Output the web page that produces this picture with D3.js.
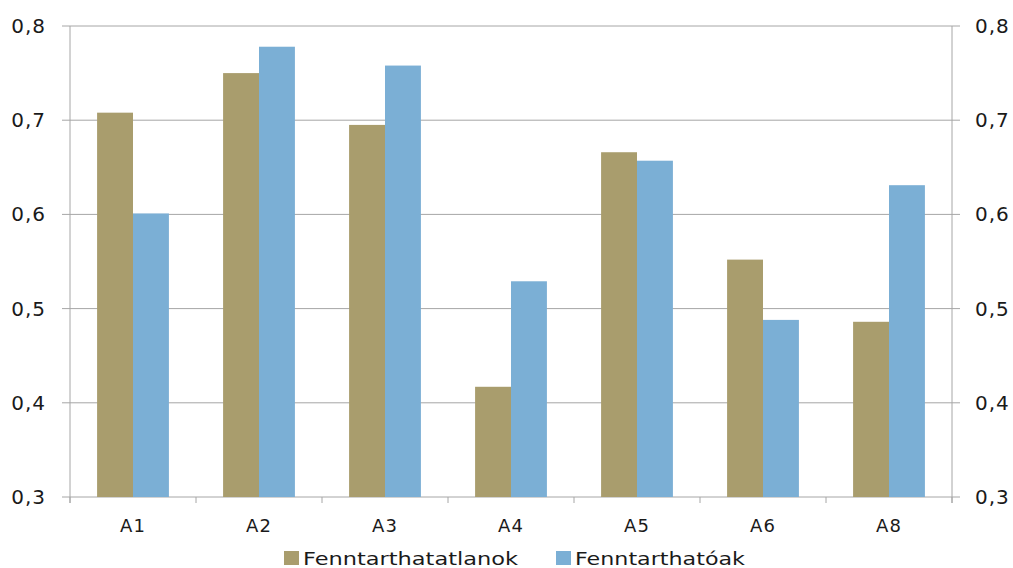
<!DOCTYPE html>
<html><head><meta charset="utf-8">
<script src="https://cdn.jsdelivr.net/npm/d3@7"></script>
<style>body{margin:0;background:#fff}svg{display:block}text{font-family:"DejaVu Sans",sans-serif;fill:#1a1a1a}</style>
</head><body><svg id="c" width="1013" height="568"></svg>
<script>
const categories = ["A1","A2","A3","A4","A5","A6","A8"];
const seriesNames = ["Fenntarthatatlanok","Fenntarthatóak"];
const unsustainable = [0.708,0.750,0.695,0.417,0.666,0.552,0.486];
const sustainable = [0.601,0.778,0.758,0.529,0.657,0.488,0.631];
const yTicks = [0.3,0.4,0.5,0.6,0.7,0.8];
const colors = ["#A99D6D","#7BAFD5"];

const svg = d3.select("#c");
const L = 70, R = 952, T = 26, B = 497;
const x = d3.scaleBand().domain(categories).range([L,R]).paddingInner(0.43).paddingOuter(0.215);
const xs = d3.scaleBand().domain([0,1]).range([0,x.bandwidth()]);
const y = d3.scaleLinear().domain([0.3,0.8]).range([B,T]);
const fmt = d => d3.format(".1f")(d).replace(".",",");
const grid = "#A6A6A6";

// gridlines
svg.append("g").selectAll("line").data(yTicks).join("line")
  .attr("x1",L-8).attr("x2",R+8).attr("y1",d=>y(d)).attr("y2",d=>y(d))
  .attr("stroke",grid).attr("stroke-width",1);

// bars
const data = categories.map((c,i)=>({c, v:[unsustainable[i],sustainable[i]]}));
const g = svg.append("g").selectAll("g").data(data).join("g").attr("transform",d=>`translate(${x(d.c)},0)`);
g.selectAll("rect").data(d=>d.v.map((v,k)=>({v,k}))).join("rect")
  .attr("x",d=>xs(d.k)).attr("width",xs.bandwidth())
  .attr("y",d=>y(d.v)).attr("height",d=>B-y(d.v)).attr("fill",d=>colors[d.k]);

// vertical axes lines
svg.append("line").attr("x1",L).attr("x2",L).attr("y1",T).attr("y2",B+6).attr("stroke",grid);
svg.append("line").attr("x1",R).attr("x2",R).attr("y1",T).attr("y2",B+6).attr("stroke",grid);

// x ticks at category boundaries
const bounds = d3.range(categories.length+1).map(i=>L+i*(R-L)/categories.length);
svg.append("g").selectAll("line").data(bounds).join("line")
  .attr("x1",d=>d).attr("x2",d=>d).attr("y1",B).attr("y2",B+6).attr("stroke",grid);

// y labels
svg.append("g").selectAll("text").data(yTicks).join("text")
  .attr("x",46).attr("y",d=>y(d)).attr("dy","0.35em").attr("text-anchor","end")
  .attr("font-size",20).attr("letter-spacing",1).text(fmt);
svg.append("g").selectAll("text").data(yTicks).join("text")
  .attr("x",975).attr("y",d=>y(d)).attr("dy","0.35em").attr("text-anchor","start")
  .attr("font-size",20).attr("letter-spacing",1).text(fmt);

// x labels
svg.append("g").selectAll("text").data(categories).join("text")
  .attr("x",d=>x(d)+x.bandwidth()/2).attr("y",532).attr("text-anchor","middle")
  .attr("font-size",18).attr("letter-spacing",1).text(d=>d);

// legend
const lg = [{x:284,tx:303,w:215},{x:556,tx:575,w:170}];
seriesNames.forEach((n,i)=>{
  svg.append("rect").attr("x",lg[i].x).attr("y",551).attr("width",15).attr("height",14).attr("fill",colors[i]);
  svg.append("text").attr("x",lg[i].tx).attr("y",565).attr("font-size",18)
    .attr("textLength",lg[i].w).attr("lengthAdjust","spacingAndGlyphs").text(n);
});
</script></body></html>
